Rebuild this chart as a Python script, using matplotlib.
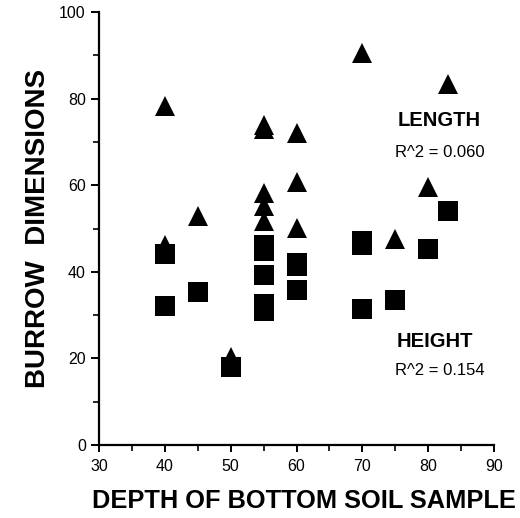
import matplotlib
matplotlib.use("Agg")
import matplotlib.pyplot as plt
import matplotlib.ticker as ticker

plt.rcParams['font.family'] = ['Liberation Sans', 'DejaVu Sans']

# burrow length (triangles)
len_depth = [40, 40, 45, 50, 55, 55, 55, 55, 55, 60, 60, 60, 70, 75, 80, 83]
len_val = [78.4, 46.3, 52.8, 20.3, 74.0, 72.9, 58.3, 55.1, 51.8, 72.1, 60.8, 50.1, 90.5, 47.6, 59.7, 83.3]

# burrow height (squares)
hgt_depth = [40, 40, 45, 50, 55, 55, 55, 55, 55, 60, 60, 60, 70, 70, 70, 75, 80, 83]
hgt_val = [44.0, 32.1, 35.3, 18.1, 46.2, 44.8, 39.3, 32.6, 31.0, 42.1, 41.3, 35.8, 47.1, 46.2, 31.5, 33.4, 45.3, 54.0]

fig = plt.figure(figsize=(5.2, 5.18), dpi=100)
ax = fig.add_axes([0.1904, 0.1409, 0.7596, 0.8359])

ax.plot(len_depth, len_val, '^', color='black', markersize=14.4, markeredgewidth=0, clip_on=False)
ax.plot(hgt_depth, hgt_val, 's', color='black', markersize=14.2, markeredgewidth=0, clip_on=False)

ax.text(75.4, 74.9, 'LENGTH', fontsize=14.5, fontweight='bold', va='center', ha='left')
ax.text(74.9, 67.6, 'R^2 = 0.060', fontsize=12, va='center', ha='left')
ax.text(75.2, 23.8, 'HEIGHT', fontsize=14.5, fontweight='bold', va='center', ha='left')
ax.text(74.9, 17.1, 'R^2 = 0.154', fontsize=12, va='center', ha='left')

ax.set_xlim(30, 90)
ax.set_ylim(0, 100)
ax.xaxis.set_major_locator(ticker.MultipleLocator(10))
ax.xaxis.set_minor_locator(ticker.MultipleLocator(5))
ax.yaxis.set_major_locator(ticker.MultipleLocator(20))
ax.yaxis.set_minor_locator(ticker.MultipleLocator(10))

for s in ['top', 'right']:
    ax.spines[s].set_visible(False)
for s in ['left', 'bottom']:
    ax.spines[s].set_linewidth(1.6)

ax.tick_params(axis='both', which='major', direction='out', length=6, width=1.4, labelsize=11.5)
ax.tick_params(axis='both', which='minor', direction='out', length=4, width=1.2)
ax.tick_params(axis='x', which='major', length=5, pad=5)

ax.set_xlabel('DEPTH OF BOTTOM SOIL SAMPLE', fontsize=18.3, fontweight='bold', labelpad=11)
ax.xaxis.label.set_x(0.518)
ax.set_ylabel('BURROW  DIMENSIONS', fontsize=20, fontweight='bold', labelpad=6)

fig.savefig('out.png', dpi=100)
